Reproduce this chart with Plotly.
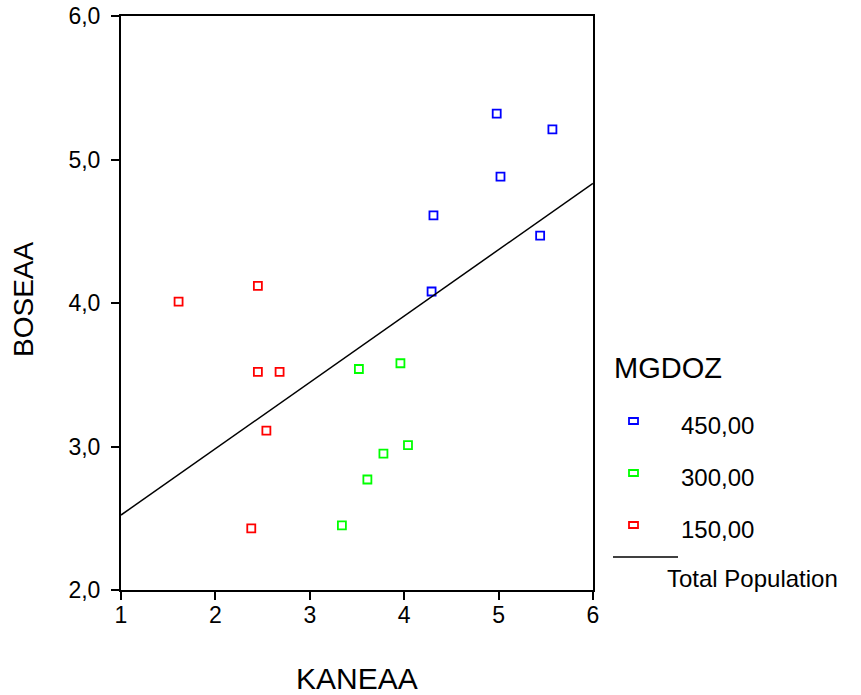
import numpy as np
import plotly.graph_objects as go

# ---- data ----
groups = ["450,00", "300,00", "150,00"]
colors = ["#0000FF", "#00FF00", "#FF0000"]

kaneaa_450 = [4.98, 5.57, 5.02, 4.31, 5.44, 4.29]
boseaa_450 = [5.32, 5.21, 4.88, 4.61, 4.47, 4.08]

kaneaa_300 = [3.52, 3.96, 4.04, 3.78, 3.61, 3.34]
boseaa_300 = [3.54, 3.58, 3.01, 2.95, 2.77, 2.45]

kaneaa_150 = [1.61, 2.45, 2.45, 2.68, 2.54, 2.38]
boseaa_150 = [4.01, 4.12, 3.52, 3.52, 3.11, 2.43]

x_range = [1, 6]
y_range = [2, 6]

xs = [kaneaa_450, kaneaa_300, kaneaa_150]
ys = [boseaa_450, boseaa_300, boseaa_150]

# ---- layout geometry (page pixels) ----
W, H = 861, 695
L, R, T, B = 121, 593, 16, 590  # plot area
FONT = "Liberation Sans, Arial, sans-serif"

def px(xp):
    return (xp - L) / (R - L)

def py(yp):
    return (B - yp) / (B - T)

fig = go.Figure()

for gx, gy, c, name in zip(xs, ys, colors, groups):
    fig.add_trace(go.Scatter(
        x=gx, y=gy, mode="markers", name=name,
        marker=dict(symbol="square-open", size=8, color=c, line=dict(width=1.8, color=c)),
        showlegend=False, cliponaxis=False,
    ))

# total population fit line
all_x = np.concatenate([np.array(v) for v in xs])
all_y = np.concatenate([np.array(v) for v in ys])
slope, intercept = np.polyfit(all_x, all_y, 1)
lx = np.array(x_range, dtype=float)
fig.add_trace(go.Scatter(
    x=lx, y=slope * lx + intercept, mode="lines",
    line=dict(color="black", width=1.5), showlegend=False,
))

annotations = []
shapes = []

# axis titles
annotations.append(dict(text="KANEAA", xref="paper", yref="paper",
                        x=px(357), y=py(678), xanchor="center", yanchor="middle",
                        showarrow=False, font=dict(family=FONT, size=30, color="black")))
annotations.append(dict(text="BOSEAA", xref="paper", yref="paper",
                        x=px(23), y=py(300), xanchor="center", yanchor="middle",
                        textangle=-90, showarrow=False,
                        font=dict(family=FONT, size=28, color="black")))

# legend
annotations.append(dict(text="MGDOZ", xref="paper", yref="paper",
                        x=px(612), y=py(368), xanchor="left", yanchor="middle",
                        showarrow=False, font=dict(family=FONT, size=29, color="black")))
leg_y = [421, 473, 525]
for name, c, yy in zip(groups, colors, leg_y):
    shapes.append(dict(type="rect", xref="paper", yref="paper",
                       x0=px(629), x1=px(638), y0=py(yy + 3), y1=py(yy - 3),
                       line=dict(color=c, width=1.8), fillcolor="rgba(0,0,0,0)"))
    annotations.append(dict(text=name, xref="paper", yref="paper",
                            x=px(679), y=py(yy + 4), xanchor="left", yanchor="middle",
                            showarrow=False, font=dict(family=FONT, size=24, color="black")))
shapes.append(dict(type="line", xref="paper", yref="paper",
                   x0=px(613), x1=px(678), y0=py(557), y1=py(557),
                   line=dict(color="black", width=1.5)))
annotations.append(dict(text="Total Population", xref="paper", yref="paper",
                        x=px(665), y=py(578), xanchor="left", yanchor="middle",
                        showarrow=False, font=dict(family=FONT, size=24, color="black")))

fig.update_layout(
    width=W, height=H,
    margin=dict(l=L, r=W - R, t=T, b=H - B, pad=0),
    paper_bgcolor="white", plot_bgcolor="white",
    separators=", ",
    font=dict(family=FONT, size=23, color="black"),
    annotations=annotations, shapes=shapes,
    showlegend=False,
)
fig.update_xaxes(range=x_range, dtick=1, tick0=1, tickformat="d", automargin=False,
                 showline=True, mirror=True, linecolor="black", linewidth=2,
                 ticks="outside", ticklen=8, tickwidth=1.5, tickcolor="black",
                 showgrid=False, zeroline=False, ticklabelstandoff=-5,
                 ticklabeloverflow="allow",
                 tickfont=dict(family=FONT, size=23, color="black"))
fig.update_yaxes(range=y_range, dtick=1, tick0=2, tickformat=".1f", automargin=False,
                 showline=True, mirror=True, linecolor="black", linewidth=2,
                 ticks="outside", ticklen=8, tickwidth=1.5, tickcolor="black",
                 showgrid=False, zeroline=False, ticklabelstandoff=6,
                 ticklabeloverflow="allow",
                 tickfont=dict(family=FONT, size=23, color="black"))

fig.write_html("out.html",
               config={"displayModeBar": False},
               post_script="document.body.style.margin='0';document.body.style.overflow='hidden';")
